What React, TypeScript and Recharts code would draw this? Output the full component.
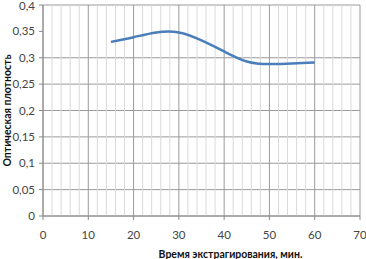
import { LineChart, Line, XAxis, YAxis, CartesianGrid, ReferenceLine } from "recharts";

// extraction time, min
const times = [15, 20, 25, 30, 35, 40, 45, 50, 55, 60];
// optical density
const density = [0.33, 0.339, 0.348, 0.348, 0.333, 0.312, 0.293, 0.288, 0.289, 0.291];

const xTicks = [0, 10, 20, 30, 40, 50, 60, 70];
const xMinor = [2, 4, 6, 8, 12, 14, 16, 18, 22, 24, 26, 28, 32, 34, 36, 38, 42, 44, 46, 48, 52, 54, 56, 58, 62, 64, 66, 68];
const yTicks = [0, 0.05, 0.1, 0.15, 0.2, 0.25, 0.3, 0.35, 0.4];

const data = times.map((t, i) => ({ t, v: density[i] }));

const font = "Lato, 'Open Sans', sans-serif";
const fmt = (v: number) => String(v).replace(".", ",");

export default function App() {
    return (
        <div style={{ position: "fixed", left: 0, top: 0, background: "#fff" }}>
            <LineChart width={366} height={259} data={data} margin={{ top: 5, right: 6, left: 0, bottom: 0 }}>
                {/* minor vertical grid */}
                {xMinor.map(x => (
                    <ReferenceLine key={x} x={x} stroke="#d9d9d9" strokeWidth={1} />
                ))}
                <CartesianGrid stroke="#9a9a9a" strokeWidth={1} />
                <XAxis
                    dataKey="t"
                    type="number"
                    domain={[0, 70]}
                    ticks={xTicks}
                    height={43}
                    stroke="#8a8a8a"
                    tickSize={4}
                    tickMargin={11}
                    tick={{ fontSize: 11.5, fill: "#444", fontFamily: font }}
                    label={{
                        value: "Время экстрагирования, мин.",
                        position: "insideBottom",
                        offset: 1,
                        dx: 29,
                        style: { fontSize: 10.5, fontWeight: 700, fill: "#111", fontFamily: font }
                    }}
                />
                <YAxis
                    type="number"
                    domain={[0, 0.4]}
                    ticks={yTicks}
                    width={43}
                    stroke="#8a8a8a"
                    tickSize={4}
                    tickMargin={4}
                    tickFormatter={fmt}
                    tick={{ fontSize: 11.5, fill: "#444", fontFamily: font }}
                    label={{
                        value: "Оптическая плотность",
                        angle: -90,
                        position: "insideLeft",
                        offset: 7,
                        style: { fontSize: 10.5, fontWeight: 700, fill: "#111", fontFamily: font, textAnchor: "middle" }
                    }}
                />
                <Line
                    type="natural"
                    dataKey="v"
                    stroke="#4a7ebb"
                    strokeWidth={2.5}
                    dot={false}
                    isAnimationActive={false}
                />
            </LineChart>
        </div>
    );
}
